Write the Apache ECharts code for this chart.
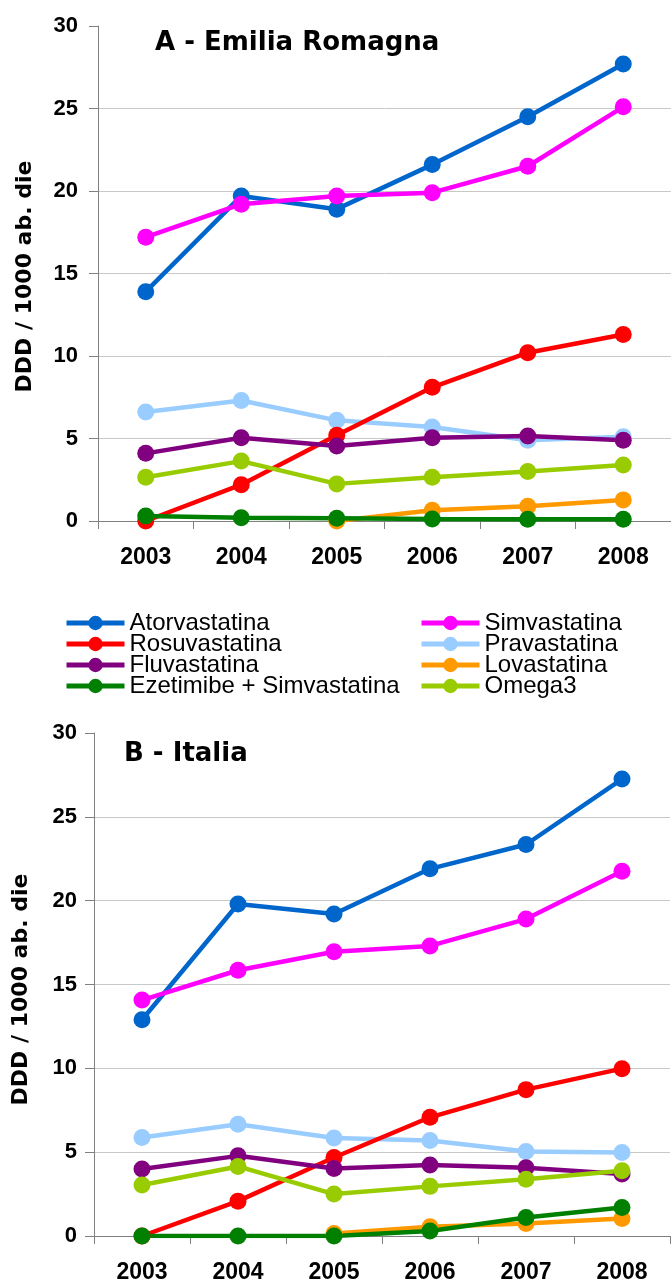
<!DOCTYPE html>
<html><head><meta charset="utf-8">
<script src="https://cdn.jsdelivr.net/npm/echarts@6/dist/echarts.min.js"></script>
<style>html,body{margin:0;padding:0;background:#fff}#c{width:671px;height:1284px}</style>
</head><body><div id="c"></div>
<script>
const years = ['2003', '2004', '2005', '2006', '2007', '2008'];
const seriesNames = ['Atorvastatina', 'Simvastatina', 'Rosuvastatina', 'Pravastatina', 'Fluvastatina', 'Lovastatina', 'Ezetimibe + Simvastatina', 'Omega3'];
const seriesColors = ['#0066cc', '#ff00ff', '#ff0000', '#99ccff', '#800080', '#ff9900', '#008000', '#99cc00'];
const titleA = 'A - Emilia Romagna';
const titleB = 'B - Italia';
const yAxisName = 'DDD / 1000 ab. die';

// A - Emilia Romagna
const erAtorvastatina = [13.9, 19.7, 18.9, 21.6, 24.5, 27.7];
const erSimvastatina = [17.2, 19.2, 19.7, 19.9, 21.5, 25.1];
const erRosuvastatina = [0, 2.2, 5.2, 8.1, 10.2, 11.3];
const erPravastatina = [6.6, 7.3, 6.1, 5.7, 4.9, 5.1];
const erFluvastatina = [4.1, 5.05, 4.55, 5.05, 5.15, 4.9];
const erLovastatina = [null, null, 0, 0.65, 0.9, 1.28];
const erEzetimibe = [0.3, 0.2, 0.16, 0.12, 0.1, 0.1];
const erOmega3 = [2.65, 3.63, 2.25, 2.65, 3.0, 3.4];

// B - Italia
const itAtorvastatina = [12.9, 19.8, 19.2, 21.9, 23.35, 27.25];
const itSimvastatina = [14.07, 15.85, 16.95, 17.3, 18.9, 21.75];
const itRosuvastatina = [0, 2.08, 4.68, 7.08, 8.73, 9.98];
const itPravastatina = [5.87, 6.67, 5.85, 5.69, 5.04, 4.98];
const itFluvastatina = [3.99, 4.78, 4.03, 4.23, 4.07, 3.7];
const itLovastatina = [null, null, 0.15, 0.55, 0.75, 1.05];
const itEzetimibe = [0, 0, 0, 0.3, 1.1, 1.7];
const itOmega3 = [3.04, 4.15, 2.5, 2.96, 3.39, 3.89];

const dataA = [erAtorvastatina, erSimvastatina, erRosuvastatina, erPravastatina, erFluvastatina, erLovastatina, erEzetimibe, erOmega3];
const dataB = [itAtorvastatina, itSimvastatina, itRosuvastatina, itPravastatina, itFluvastatina, itLovastatina, itEzetimibe, itOmega3];
const drawOrder = [3, 2, 5, 4, 7, 6, 0, 1];

const FONT = '"Liberation Sans", Arial, sans-serif';
const WIDE = '"DejaVu Sans", Verdana, sans-serif';

function makeSeries(data, idx) {
  return drawOrder.map(i => ({
    name: seriesNames[i],
    type: 'line',
    xAxisIndex: idx, yAxisIndex: idx,
    data: data[i],
    color: seriesColors[i],
    symbol: 'circle', symbolSize: 17, showSymbol: true,
    lineStyle: { width: 4.5, color: seriesColors[i] },
    itemStyle: { color: seriesColors[i] },
    connectNulls: false,
    animation: false
  }));
}

const gridLineColors = ['rgba(0,0,0,0)', '#c8c8c8', '#c8c8c8', '#c8c8c8', '#c8c8c8', '#c8c8c8', 'rgba(0,0,0,0)'];

function xAxis(idx) {
  return {
    type: 'category', gridIndex: idx, data: years, boundaryGap: true,
    axisLine: { lineStyle: { color: '#808080', width: 1 } },
    axisTick: { show: true, length: 8, lineStyle: { color: '#808080' } },
    axisLabel: { margin: 25, fontSize: 23, fontWeight: 'bold', fontFamily: FONT, color: '#000' },
    splitLine: { show: false }
  };
}
function yAxis(idx, margin, shift) {
  return {
    type: 'value', gridIndex: idx, min: 0, max: 30, interval: 5,
    name: yAxisName, nameLocation: 'middle', nameRotate: 90, nameGap: 62,
    nameTextStyle: { fontSize: 22, fontWeight: 'bold', fontFamily: WIDE, color: '#000', padding: [0, shift, 0, 0] },
    axisLine: { show: true, lineStyle: { color: '#808080', width: 1 } },
    axisTick: { show: true, length: 9, lineStyle: { color: '#808080' } },
    axisLabel: { margin: margin, fontSize: 22, fontWeight: 'bold', fontFamily: FONT, color: '#000' },
    splitLine: { show: true, lineStyle: { color: gridLineColors, width: 1 } }
  };
}

const legendCommon = {
  orient: 'vertical', top: 611, itemWidth: 58, itemHeight: 18, itemGap: -3,
  padding: 0, selectedMode: false,
  textStyle: { fontSize: 24, lineHeight: 21, fontFamily: FONT, color: '#000' },
  lineStyle: { width: 5 }
};

const chart = echarts.init(document.getElementById('c'), null, { renderer: 'canvas' });
chart.setOption({
  animation: false,
  backgroundColor: '#fff',
  title: [
    { text: titleA, left: 155, top: 30, padding: 0, textStyle: { fontSize: 26, fontWeight: 'bold', fontFamily: WIDE, color: '#000' } },
    { text: titleB, left: 124, top: 741, padding: 0, textStyle: { fontSize: 26, fontWeight: 'bold', fontFamily: WIDE, color: '#000' } }
  ],
  legend: [
    Object.assign({}, legendCommon, { left: 64, data: [seriesNames[0], seriesNames[2], seriesNames[4], seriesNames[6]] }),
    Object.assign({}, legendCommon, { left: 419, data: [seriesNames[1], seriesNames[3], seriesNames[5], seriesNames[7]] })
  ],
  grid: [
    { left: 98, top: 26, width: 576, height: 495, containLabel: false },
    { left: 94, top: 733, width: 576, height: 504, containLabel: false }
  ],
  xAxis: [xAxis(0), xAxis(1)],
  yAxis: [yAxis(0, 20, 6), yAxis(1, 17, 10)],
  series: makeSeries(dataA, 0).concat(makeSeries(dataB, 1))
});
</script>
</body></html>
